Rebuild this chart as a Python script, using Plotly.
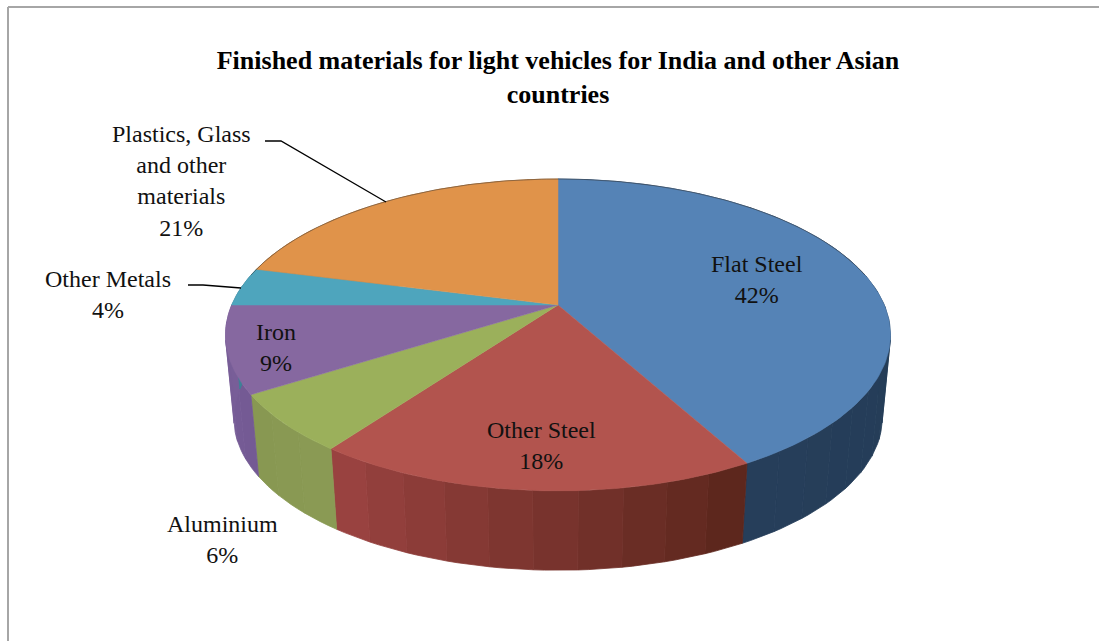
import numpy as np
import plotly.graph_objects as go

# ---- data ----
materials = ["Flat Steel", "Other Steel", "Aluminium", "Iron", "Other Metals",
             "Plastics, Glass<br>and other<br>materials"]
shares = [42, 18, 6, 9, 4, 21]
title_text = "Finished materials for light vehicles for India and other Asian<br>countries"

# ---- styles ----
top_colors = ["#5583b6", "#b2544e", "#9bb05b", "#8668a0", "#4ea5bd", "#e0934a"]
wall_left = [(38, 62, 90), (156, 68, 66), (136, 152, 82), (120, 94, 152), (60, 130, 150), (170, 110, 50)]
wall_right = [(34, 58, 84), (90, 37, 27), (138, 154, 84), (116, 90, 148), (60, 130, 150), (170, 110, 50)]
label_pos = [(757, 279), (541, 445), (222, 539), (276, 347), (108, 294), (181, 181)]

CX, CY = 558.0, 305.0
A, B, K = 326.3, 150.2, 0.192
WALL_SCALE, WALL_Y = 0.975, 389.0
FONT = "Liberation Serif"


def rim(theta_deg, scale=1.0, cy=CY):
    t = np.radians(theta_deg)
    u, v = np.sin(t), np.cos(t)
    d = 1 + K * v
    return CX + scale * A * u / d, cy - scale * B * v / d


def mix(c1, c2, f):
    return "rgb(%d,%d,%d)" % tuple(round(a + (b - a) * f) for a, b in zip(c1, c2))


fig = go.Figure()
edges = np.concatenate([[0], np.cumsum(shares)]) / sum(shares) * 360.0
common = dict(mode="lines", fill="toself", hoverinfo="skip", showlegend=False)

# side wall, drawn as narrow facets so the shading follows the rim
for i in range(len(shares)):
    a0, a1 = edges[i], edges[i + 1]
    n = max(2, int((a1 - a0) / 6))
    steps = np.linspace(a0, a1, n + 1)
    for j in range(n):
        # shade bands run from the left end of the slice to its right end
        f = 1 - (j + 0.5) / n
        col = mix(wall_left[i], wall_right[i], f)
        ts = np.linspace(steps[j], steps[j + 1], 5)
        x0, y0 = rim(ts)
        x1, y1 = rim(ts, WALL_SCALE, WALL_Y)
        fig.add_trace(go.Scatter(
            x=np.concatenate([x0, x1[::-1], x0[:1]]),
            y=np.concatenate([y0, y1[::-1], y0[:1]]),
            fillcolor=col, line=dict(color=col, width=0.8), **common))

# top face
for i in range(len(shares)):
    ts = np.linspace(edges[i], edges[i + 1], 120)
    x, y = rim(ts)
    fig.add_trace(go.Scatter(
        x=np.concatenate([[CX], x, [CX]]),
        y=np.concatenate([[CY], y, [CY]]),
        fillcolor=top_colors[i], line=dict(color=top_colors[i], width=0.5), **common))

# thin dark edge along the far rim
ts = np.linspace(-78, 78, 160)
x, y = rim(ts)
fig.add_trace(go.Scatter(x=x, y=y, mode="lines", hoverinfo="skip", showlegend=False,
                         line=dict(color="rgba(50,50,50,0.55)", width=0.8)))

# leader lines
fig.add_trace(go.Scatter(x=[265, 281, 386], y=[141, 141, 202], mode="lines", hoverinfo="skip",
                         showlegend=False, line=dict(color="black", width=1.3)))
fig.add_trace(go.Scatter(x=[188, 203, 241], y=[285, 285, 288], mode="lines", hoverinfo="skip",
                         showlegend=False, line=dict(color="black", width=1.3)))

for name, val, (lx, ly) in zip(materials, shares, label_pos):
    fig.add_annotation(x=lx, y=ly, xref="x", yref="y", text=f"{name}<br>{val}%", showarrow=False,
                       xanchor="center", yanchor="middle", align="center",
                       font=dict(family=FONT, size=24, color="#111111"))

fig.update_layout(
    width=1099, height=641, margin=dict(l=0, r=0, t=0, b=0),
    paper_bgcolor="white", plot_bgcolor="white", showlegend=False,
    title=dict(text=title_text, x=558 / 1099, xanchor="center", y=1 - 69 / 641, yanchor="middle",
               font=dict(family=FONT, size=26, color="black", weight="bold")),
    xaxis=dict(range=[0, 1099], visible=False, fixedrange=True),
    yaxis=dict(range=[641, 0], visible=False, fixedrange=True),
    shapes=[dict(type="line", xref="x", yref="y", x0=8, x1=8, y0=7, y1=641,
                 line=dict(color="#a6a6a6", width=2)),
            dict(type="line", xref="x", yref="y", x0=8, x1=1099, y0=7, y1=7,
                 line=dict(color="#a6a6a6", width=2))],
)
fig.write_html("out.html", post_script="document.body.style.margin='0';document.body.style.overflow='hidden';",
               config={"displayModeBar": False})
